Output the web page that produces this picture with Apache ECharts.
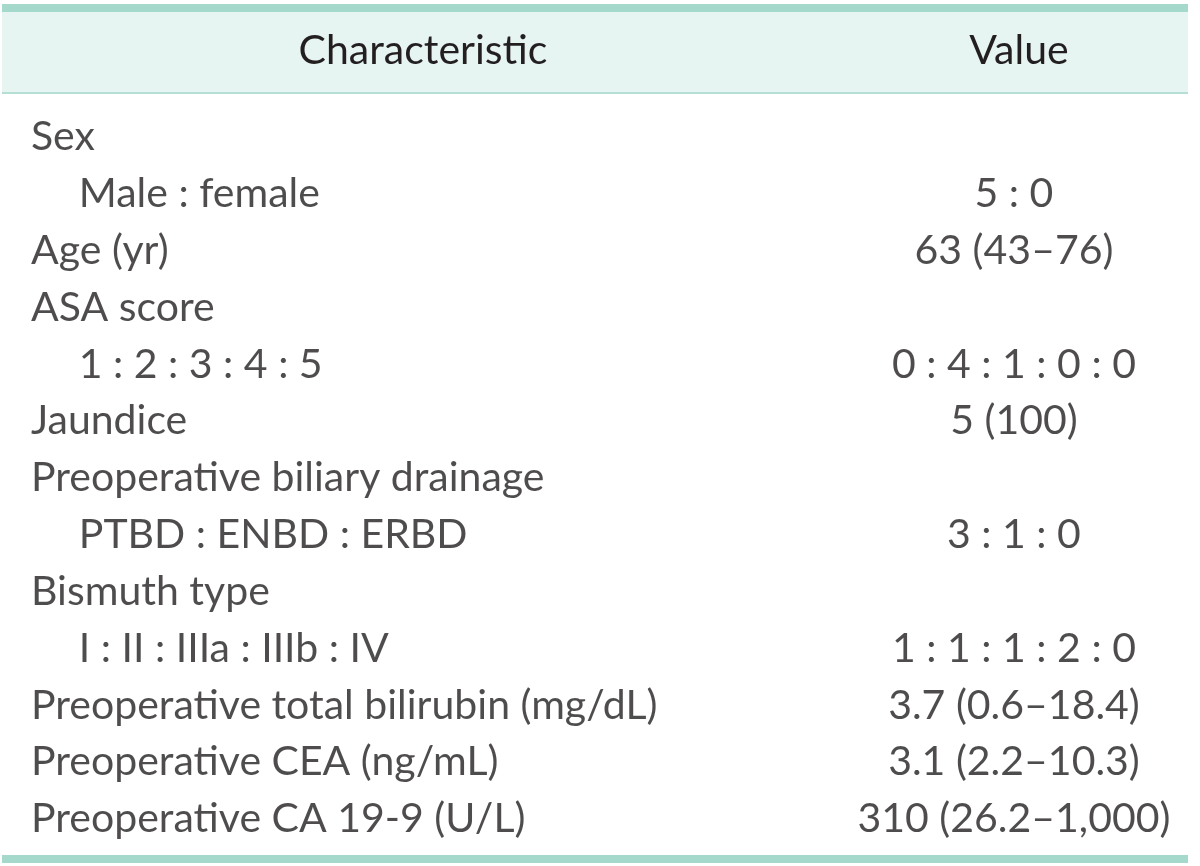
<!DOCTYPE html>
<html>
<head>
<meta charset="utf-8">
<script src="https://cdn.jsdelivr.net/npm/echarts@6/dist/echarts.min.js"></script>
<style>
  html, body { margin: 0; padding: 0; background: #fff; }
  #chart { width: 1200px; height: 866px; }
</style>
</head>
<body>
<div id="chart"></div>
<script>
// table content
var headers = ['Characteristic', 'Value'];
var characteristics = [
  'Sex',
  'Male : female',
  'Age (yr)',
  'ASA score',
  '1 : 2 : 3 : 4 : 5',
  'Jaundice',
  'Preoperative biliary drainage',
  'PTBD : ENBD : ERBD',
  'Bismuth type',
  'I : II : IIIa : IIIb : IV',
  'Preoperative total bilirubin (mg/dL)',
  'Preoperative CEA (ng/mL)',
  'Preoperative CA 19-9 (U/L)'
];
// 1 = sub row (indented)
var levels = [0, 1, 0, 0, 1, 0, 0, 1, 0, 1, 0, 0, 0];
var values = [
  '',
  '5 : 0',
  '63 (43\u201376)',
  '',
  '0 : 4 : 1 : 0 : 0',
  '5 (100)',
  '',
  '3 : 1 : 0',
  '',
  '1 : 1 : 1 : 2 : 0',
  '3.7 (0.6\u201318.4)',
  '3.1 (2.2\u201310.3)',
  '310 (26.2\u20131,000)'
];

var fontFamily = 'Lato, "Open Sans", sans-serif';
var textColor = '#231f20';
var fontSize = 41;

let myChart = echarts.init(document.getElementById('chart'));

// x: 0 = left edge of the label column, 1 = right edge
var labelData = characteristics.map(function (c, i) {
  return { value: [levels[i] === 1 ? 0.0413 : 0, i], name: c };
});
var valueData = values.map(function (v, i) {
  return { value: [0.8496, i], name: v };
});

let option = {
  animation: false,
  backgroundColor: '#ffffff',
  graphic: [
    // header band
    { type: 'rect', shape: { x: 2, y: 12, width: 1186, height: 81 }, style: { fill: '#e6f4f2' }, z: 0 },
    { type: 'rect', shape: { x: 2, y: 4, width: 1186, height: 8 }, style: { fill: '#a5d9cc' }, z: 1 },
    { type: 'rect', shape: { x: 2, y: 92, width: 1186, height: 2 }, style: { fill: '#b5dfd5' }, z: 1 },
    { type: 'rect', shape: { x: 2, y: 855, width: 1186, height: 8 }, style: { fill: '#a5d9cc' }, z: 1 },
    {
      type: 'text', x: 423, y: 51, z: 2,
      style: { text: headers[0], fill: textColor, font: fontSize + 'px ' + fontFamily, textAlign: 'center', textVerticalAlign: 'middle' }
    },
    {
      type: 'text', x: 1019, y: 51, z: 2,
      style: { text: headers[1], fill: textColor, font: fontSize + 'px ' + fontFamily, textAlign: 'center', textVerticalAlign: 'middle' }
    }
  ],
  grid: { left: 31, right: 12, top: 108.6, bottom: 866 - 847.4 },
  xAxis: { type: 'value', min: 0, max: 1, show: false },
  yAxis: {
    type: 'category', inverse: true, show: false,
    data: characteristics.map(function (c, i) { return i; })
  },
  series: [
    {
      type: 'scatter', symbolSize: 0, data: labelData,
      label: {
        show: true, position: 'right', distance: 0,
        formatter: function (p) { return p.name; },
        color: textColor, fontSize: fontSize, fontFamily: fontFamily
      }
    },
    {
      type: 'scatter', symbolSize: 0, data: valueData,
      label: {
        show: true, position: 'inside',
        formatter: function (p) { return p.name; },
        color: textColor, fontSize: fontSize, fontFamily: fontFamily
      }
    }
  ]
};
myChart.setOption(option);
</script>
</body>
</html>
